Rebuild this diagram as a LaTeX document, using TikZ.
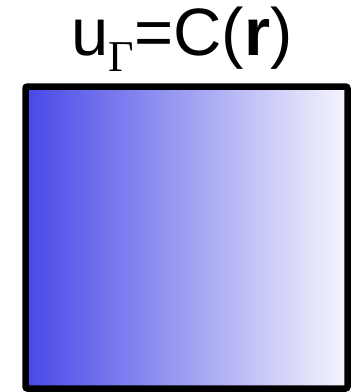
\documentclass[tikz,border=0pt]{standalone}
\usepackage{fontspec}
\setmainfont{Liberation Sans}
\newfontfamily\gserif{Liberation Serif}
\begin{document}
\begin{tikzpicture}[x=1pt,y=-1pt,
  box/.style={draw=black,line width=6.5pt,rounded corners=2pt,left color={rgb,255:red,72;green,72;blue,232},right color={rgb,255:red,246;green,246;blue,253},shading angle=90},
  title/.style={inner sep=0pt,font=\fontsize{67}{67}\selectfont}]
\useasboundingbox (0,0) rectangle (356,392);
\path[box] (25.5,86.5) rectangle (347.5,388.5);
\node[title,anchor=base west] (t) at (71.5,55) {u\raisebox{-16pt}{\gserif\fontsize{44}{44}\selectfont Γ}=C(\textbf{r})};
\end{tikzpicture}
\end{document}
